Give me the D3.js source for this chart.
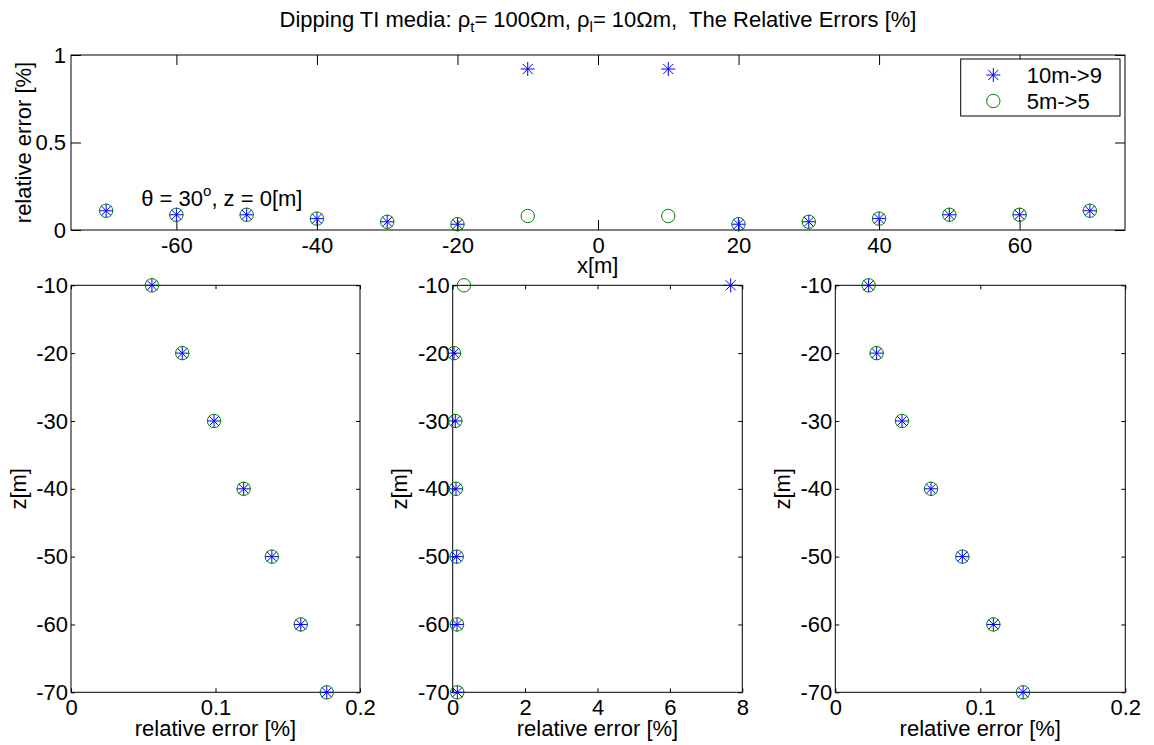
<!DOCTYPE html>
<html>
<head>
<meta charset="utf-8">
<script src="https://cdn.jsdelivr.net/npm/d3@7"></script>
<style>
  html, body { margin: 0; padding: 0; background: #fff; }
  svg { display: block; font-family: "Liberation Sans", Arial, Helvetica, sans-serif; }
  text { fill: #000; }
</style>
</head>
<body>
<svg id="chart" width="1154" height="745"></svg>
<script>
// ---------------- data ----------------
const seriesNames = ["10m->9", "5m->5"];

// top panel: relative error vs x at z = 0
const xPositions = [-70, -60, -50, -40, -30, -20, -10, 10, 20, 30, 40, 50, 60, 70];
const topErr10 = [0.11, 0.087, 0.087, 0.065, 0.047, 0.033, 0.92, 0.92, 0.033, 0.047, 0.065, 0.087, 0.087, 0.11];
const topErr5  = [0.11, 0.087, 0.087, 0.065, 0.047, 0.033, 0.08, 0.08, 0.033, 0.047, 0.065, 0.087, 0.087, 0.11];

// bottom panels: relative error vs depth z
const zDepths = [-10, -20, -30, -40, -50, -60, -70];
const leftErr10  = [0.056, 0.077, 0.099, 0.1195, 0.139, 0.159, 0.177];
const leftErr5   = [0.056, 0.077, 0.099, 0.1195, 0.139, 0.159, 0.177];
const midErr10   = [7.68, 0.036, 0.072, 0.091, 0.11, 0.12, 0.127];
const midErr5    = [0.31, 0.036, 0.072, 0.091, 0.11, 0.12, 0.127];
const rightErr10 = [0.023, 0.0285, 0.046, 0.066, 0.0876, 0.109, 0.1295];
const rightErr5  = [0.023, 0.0285, 0.046, 0.066, 0.0876, 0.109, 0.1295];

// tick values
const topXTicks = [-60, -40, -20, 0, 20, 40, 60];
const topYTicks = [0, 0.5, 1];
const zTicks = [-10, -20, -30, -40, -50, -60, -70];
const smallErrTicks = [0, 0.1, 0.2];
const midErrTicks = [0, 2, 4, 6, 8];

// ---------------- drawing ----------------
const svg = d3.select("#chart");
const FONT = 22;
const BLUE = "#0000ff";
const GREEN = "#008000";

function starPath(s) {
  const d = s * 0.72;
  return `M${-s},0L${s},0M0,${-s}L0,${s}M${-d},${-d}L${d},${d}M${-d},${d}L${d},${-d}`;
}

function drawStar(g, x, y) {
  g.append("path").attr("transform", `translate(${x},${y})`)
    .attr("d", starPath(7)).attr("stroke", BLUE).attr("stroke-width", 1).attr("fill", "none");
}
function drawCircle(g, x, y) {
  g.append("circle").attr("cx", x).attr("cy", y).attr("r", 6.7)
    .attr("stroke", GREEN).attr("stroke-width", 1).attr("fill", "none");
}

function frame(g, x, y, tickLen, xTicks, yTicks, xFmt, yFmt, xPad, yPad) {
  const [x0, x1] = x.range();
  const [y0, y1] = y.range(); // y0 bottom, y1 top
  // bottom axis with labels, ticks inward
  const bottom = g.append("g").attr("transform", `translate(0,${y0})`)
    .call(d3.axisBottom(x).tickValues(xTicks).tickSize(-tickLen).tickSizeOuter(0).tickPadding(xPad).tickFormat(xFmt));
  const top = g.append("g").attr("transform", `translate(0,${y1})`)
    .call(d3.axisTop(x).tickValues(xTicks).tickSize(-tickLen).tickSizeOuter(0).tickFormat(""));
  const left = g.append("g").attr("transform", `translate(${x0},0)`)
    .call(d3.axisLeft(y).tickValues(yTicks).tickSize(-tickLen).tickSizeOuter(0).tickPadding(yPad).tickFormat(yFmt));
  const right = g.append("g").attr("transform", `translate(${x1},0)`)
    .call(d3.axisRight(y).tickValues(yTicks).tickSize(-tickLen).tickSizeOuter(0).tickFormat(""));
  [bottom, top, left, right].forEach(a => {
    a.select(".domain").remove();
    a.selectAll("line").attr("stroke", "#000").attr("stroke-width", 1);
    a.selectAll("text").attr("font-size", FONT).attr("font-family", "Liberation Sans, Arial, sans-serif").attr("fill", "#000");
  });
  g.append("rect").attr("x", x0).attr("y", y1).attr("width", x1 - x0).attr("height", y0 - y1)
    .attr("fill", "none").attr("stroke", "#000").attr("stroke-width", 1);
}

const fmtNum = d => (d < 0 ? "-" : "") + String(Math.abs(d));

// ----- top panel -----
const topG = svg.append("g");
const xTop = d3.scaleLinear().domain([-75, 75]).range([71, 1125]);
const yTop = d3.scaleLinear().domain([0, 1]).range([230, 55]);
frame(topG, xTop, yTop, 10, topXTicks, topYTicks, fmtNum, fmtNum, 7, 5);

xPositions.forEach((xv, i) => {
  drawStar(topG, xTop(xv), yTop(topErr10[i]));
  drawCircle(topG, xTop(xv), yTop(topErr5[i]));
});

// annotation
const ann = topG.append("text").attr("x", xTop(-65)).attr("y", yTop(0.137)).attr("font-size", FONT);
ann.append("tspan").text("\u03B8 = 30");
ann.append("tspan").attr("font-size", 15).attr("dy", -10).text("o");
ann.append("tspan").attr("dy", 10).text(", z = 0[m]");

// axis labels
topG.append("text").attr("x", 597.7).attr("y", 273).attr("text-anchor", "middle").attr("font-size", FONT).text("x[m]");
topG.append("text").attr("transform", `translate(31,142.5) rotate(-90)`).attr("text-anchor", "middle")
  .attr("font-size", FONT).text("relative error [%]");

// legend
const leg = topG.append("g");
leg.append("rect").attr("x", 960.7).attr("y", 59).attr("width", 159.3).attr("height", 57)
  .attr("fill", "#fff").attr("stroke", "#000").attr("stroke-width", 1);
drawStar(leg, 993.3, 75);
drawCircle(leg, 993.3, 101);
leg.append("text").attr("x", 1026.7).attr("y", 83).attr("font-size", FONT).text(seriesNames[0]);
leg.append("text").attr("x", 1026.7).attr("y", 108.5).attr("font-size", FONT).text(seriesNames[1]);

// title
const title = svg.append("text").attr("x", 598).attr("y", 27).attr("text-anchor", "middle").attr("font-size", FONT);
title.append("tspan").text("Dipping TI media: \u03C1");
title.append("tspan").attr("font-size", 15).attr("dy", 5).text("t");
title.append("tspan").attr("dy", -5).text("= 100\u03A9m, \u03C1");
title.append("tspan").attr("font-size", 15).attr("dy", 5).text("l");
title.append("tspan").attr("dy", -5).text("= 10\u03A9m,  The Relative Errors [%]");
title.attr("xml:space", "preserve").style("white-space", "pre");

// ----- bottom panels -----
const panels = [
  { x0: 71, x1: 360, dom: [0, 0.2], ticks: smallErrTicks, e10: leftErr10, e5: leftErr5 },
  { x0: 452.7, x1: 742.3, dom: [0, 8], ticks: midErrTicks, e10: midErr10, e5: midErr5 },
  { x0: 835.3, x1: 1125.3, dom: [0, 0.2], ticks: smallErrTicks, e10: rightErr10, e5: rightErr5 }
];
const yBot = d3.scaleLinear().domain([-70, -10]).range([692.3, 285.3]);

panels.forEach(p => {
  const g = svg.append("g");
  const x = d3.scaleLinear().domain(p.dom).range([p.x0, p.x1]);
  frame(g, x, yBot, 4, p.ticks, zTicks, fmtNum, fmtNum, 7, 3);
  zDepths.forEach((z, i) => {
    drawStar(g, x(p.e10[i]), yBot(z));
    drawCircle(g, x(p.e5[i]), yBot(z));
  });
  g.append("text").attr("x", (p.x0 + p.x1) / 2).attr("y", 736).attr("text-anchor", "middle")
    .attr("font-size", FONT).text("relative error [%]");
  g.append("text").attr("transform", `translate(${p.x0 - 45.5},488.8) rotate(-90)`).attr("text-anchor", "middle")
    .attr("font-size", FONT).text("z[m]");
});
</script>
</body>
</html>
